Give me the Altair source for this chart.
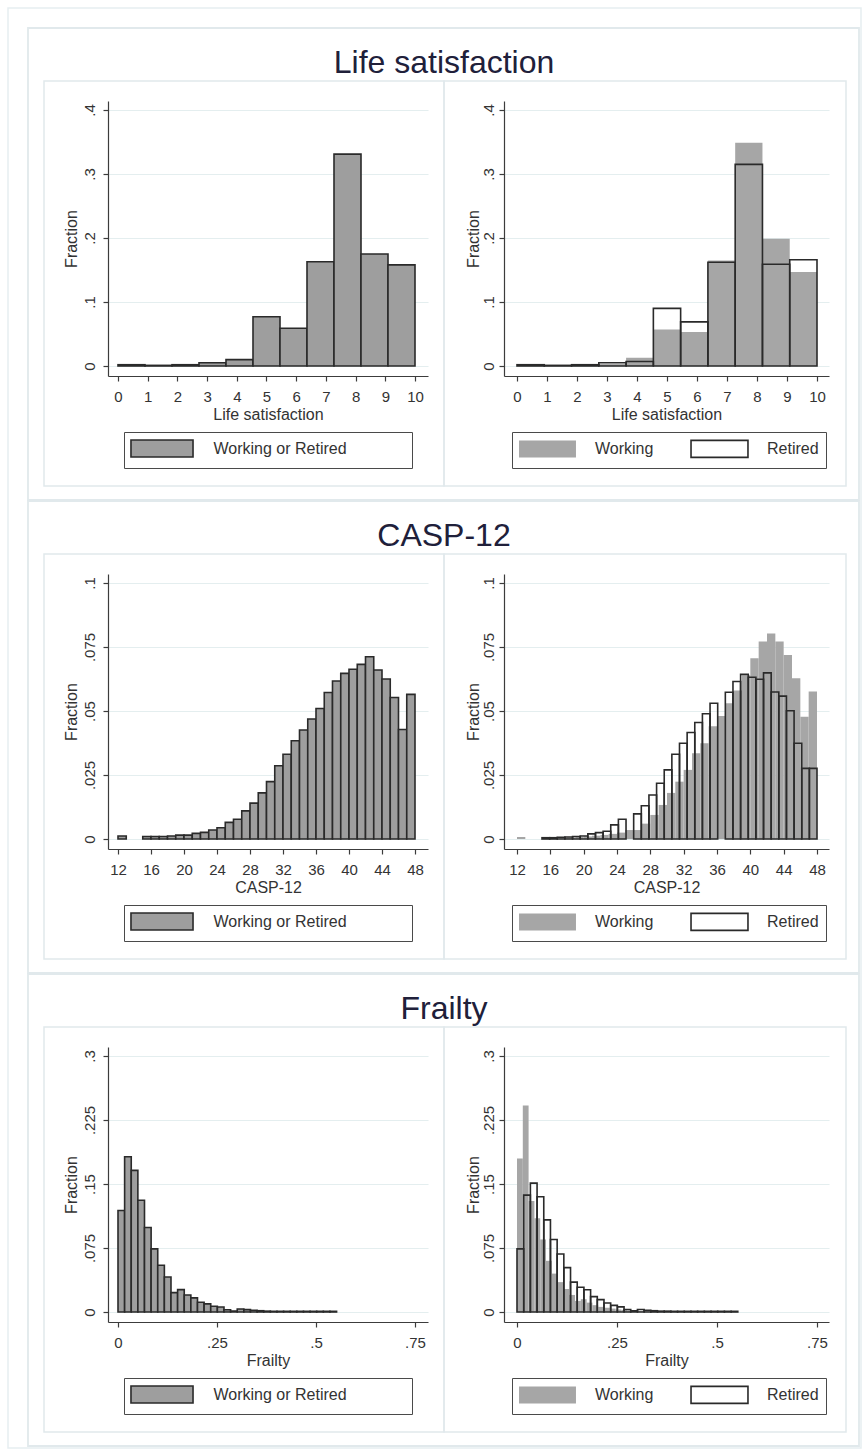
import altair as alt
import numpy as np
import pandas as pd

# ---------------------------------------------------------------- data
# Life satisfaction: 11 equal-width bins over [0, 10]
LS_LO, LS_W = 0.0, 10 / 11
ls_all = [0.002, 0.001, 0.002, 0.005, 0.010, 0.077, 0.059, 0.163, 0.331, 0.175, 0.158]
ls_working = [0.002, 0.001, 0.002, 0.003, 0.013, 0.057, 0.053, 0.165, 0.349, 0.199, 0.147]
ls_retired = [0.002, 0.001, 0.002, 0.005, 0.007, 0.090, 0.069, 0.162, 0.315, 0.159, 0.166]

# CASP-12: unit bins starting at 12 (last bin holds 47 and 48)
CASP_LO, CASP_W = 12, 1.0
casp_all = [0.0012, 0, 0, 0.0010, 0.0010, 0.0010, 0.0012, 0.0015, 0.0015, 0.0022,
            0.0026, 0.0035, 0.0044, 0.0065, 0.0077, 0.0110, 0.0140, 0.0180, 0.0224,
            0.0286, 0.0331, 0.0384, 0.0426, 0.0469, 0.0510, 0.0572, 0.0617, 0.0647,
            0.0663, 0.0682, 0.0712, 0.0660, 0.0625, 0.0553, 0.0428, 0.0565]
casp_working = [0.0008, 0, 0, 0.0005, 0.0005, 0.0005, 0.0006, 0.0008, 0.0010, 0.0013,
                0.0016, 0.0020, 0.0025, 0.0035, 0.0035, 0.0060, 0.0094, 0.0133, 0.0180,
                0.0224, 0.0270, 0.0335, 0.0374, 0.0440, 0.0480, 0.0530, 0.0580, 0.0640,
                0.0706, 0.0771, 0.0803, 0.0771, 0.0719, 0.0628, 0.0478, 0.0576]
# retired sample: 36 bins over [15, 48]
CASP_RET_LO, CASP_RET_W = 15, 33 / 36
casp_retired = [0.0005, 0.0005, 0.0007, 0.0008, 0.0010, 0.0012, 0.0020, 0.0025, 0.0030,
                0.0055, 0.0077, 0, 0.0098, 0.0130, 0.0172, 0.0218, 0.0270, 0.0331,
                0.0374, 0.0416, 0.0455, 0.0489, 0.0530, 0, 0.0573, 0.0615, 0.0643,
                0.0632, 0.0624, 0.0649, 0.0574, 0.0558, 0.0501, 0.0374, 0.0276, 0.0276]

# Frailty index
FR_LO, FR_W = 0.0, 0.552 / 33
frailty_all = [0.119, 0.182, 0.166, 0.131, 0.099, 0.074, 0.0547, 0.041,
               0.0227, 0.0262, 0.020, 0.0165, 0.0115, 0.0095, 0.0068, 0.0058,
               0.0027, 0.0012, 0.0035, 0.0028, 0.0020, 0.0015,
               0.0010, 0.0008, 0.0008, 0.0008, 0.0008, 0.0008, 0.0008, 0.0008,
               0.0008, 0.0008, 0.0008]
FR_WORK_W = 0.0145
frailty_working = [0.180, 0.242, 0.130, 0.110, 0.085, 0.060, 0.045, 0.035, 0.027,
                   0.020, 0.013, 0.015, 0.011, 0.008, 0.006, 0.005, 0.004, 0.003,
                   0.0025, 0.002, 0.0015, 0.001, 0.001, 0.001, 0.0008, 0.0008,
                   0.0008, 0.0008, 0.0008, 0.0008, 0.0008]
frailty_retired = [0.074, 0.137, 0.151, 0.135, 0.108, 0.085, 0.068, 0.052,
                   0.035, 0.029, 0.026, 0.018, 0.0145, 0.0106, 0.0078, 0.006,
                   0.003, 0.0015, 0.003, 0.002, 0.0015, 0.001, 0.001, 0.0008,
                   0.0008, 0.0008, 0.0008, 0.0008, 0.0008, 0.0008, 0.0008, 0.0008,
                   0.0008]

ls_xticks = list(range(0, 11))
casp_xticks = list(range(12, 49, 4))
fr_xticks = [0, 0.25, 0.5, 0.75]
ls_yticks = [0, 0.1, 0.2, 0.3, 0.4]
casp_yticks = [0, 0.025, 0.05, 0.075, 0.1]
fr_yticks = [0, 0.075, 0.15, 0.225, 0.3]

# ---------------------------------------------------------------- style
FONT = "Liberation Sans"
TXT = "#333333"
HEAD = "#20203a"
AXIS = "#3c3c3c"
GRID = "#e4eeef"
FRAME = "#e1e9ec"
GRAY = "#9e9e9e"
WORK_GRAY = "#a6a6a6"
EDGE = "#2a2a2a"

PW_L, PW_R, PH = 320, 325, 275
ROW_STEP = 473
LAB = "replace(toString(datum.value), '0.', '.')"
DUMMY = pd.DataFrame({"d": [0]})
WIDE_L = "M-3.65,-1H3.65V1H-3.65Z"
WIDE_R = "M-3.35,-1H3.35V1H-3.35Z"


def bars_df(lo, width, values, group):
    k = np.arange(len(values))
    df = pd.DataFrame({"x0": lo + k * width, "x1": lo + (k + 1) * width,
                       "frac": values, "grp": group})
    return df[df["frac"] > 0]


def frame(x, x2, y, y2, color=FRAME, width=1.5):
    return alt.Chart(DUMMY).mark_rect(filled=False, stroke=color, strokeWidth=width).encode(
        x=alt.value(x), x2=alt.value(x2), y=alt.value(y), y2=alt.value(y2))


def encodings(lo, hi, ymax, xticks, yticks, xtitle, pw, pad_l, pad_r, span, lab_pad, title_x):
    rng = hi - lo
    xdom = [lo - pad_l / span * rng, hi + pad_r / span * rng]
    ydom = [-10 / 256 * ymax, ymax + 9 / 256 * ymax]
    x = alt.X("x0:Q", scale=alt.Scale(domain=xdom, nice=False, zero=False),
              axis=alt.Axis(values=xticks, title=xtitle, labelExpr=LAB, grid=False,
                            tickSize=5, labelPadding=15, labelBaseline="middle",
                            labelAlign="center", labelFlush=False, labelOverlap=False,
                            titleX=pw / 2, titleY=38, titleBaseline="middle",
                            titleAlign="center"))
    y = alt.Y("frac:Q", scale=alt.Scale(domain=ydom, nice=False, zero=False),
              axis=alt.Axis(values=yticks, title="Fraction", labelExpr=LAB, grid=True,
                            tickSize=5, labelAngle=270, labelPadding=lab_pad,
                            labelBaseline="middle", labelAlign="center",
                            labelFlush=False, labelOverlap=False,
                            titleX=title_x, titleY=PH / 2, titleAngle=270,
                            titleBaseline="middle", titleAlign="center"))
    return x, y


def left_panel(row, extra):
    x, y = encodings(row["lo"], row["hi"], row["ymax"], row["xticks"], row["yticks"],
                     row["xtitle"], PW_L, 10, 13, 297, 14, -37)
    # trailing no-break spaces widen the legend box; the zero-width space keeps them
    legend = alt.Legend(orient="none", legendX=16, legendY=331, title=None,
                        symbolType=WIDE_L, symbolSize=289, symbolOffset=21.5,
                        labelOffset=42, symbolStrokeColor=EDGE, symbolStrokeWidth=1.6,
                        labelLimit=400,
                        labelExpr="pad(datum.label, 31, '\u00a0') + '\u200b'",
                        padding=7, strokeColor="#4a4a4a", fillColor="white")
    bars = alt.Chart(row["all"]).mark_rect(stroke=EDGE, strokeWidth=1.6).encode(
        x=x, x2="x1", y=y, y2=alt.datum(0),
        fill=alt.Fill("grp:N", scale=alt.Scale(domain=["Working or Retired"], range=[GRAY]),
                      legend=legend))
    heading = alt.Chart(DUMMY).mark_text(font=FONT, fontSize=32, color=HEAD, align="center",
                                         baseline="alphabetic").encode(
        x=alt.value(336), y=alt.value(-28), text=alt.value(row["title"]))
    layers = extra + [frame(-80, 751, -73, 399, width=1.8), frame(-64, 336, -20, 385),
                      bars, heading]
    return alt.layer(*layers).properties(width=PW_L, height=PH)


def right_panel(row):
    x, y = encodings(row["lo"], row["hi"], row["ymax"], row["xticks"], row["yticks"],
                     row["xtitle"], PW_R, 13, 12, 300, 11, -31)
    fill_scale = alt.Scale(domain=["Working", "Retired"], range=[WORK_GRAY, "transparent"])
    stroke_scale = alt.Scale(domain=["Working", "Retired"], range=["transparent", EDGE])
    legend = alt.Legend(orient="none", legendX=8, legendY=331, title=None,
                        direction="horizontal", columns=2, columnPadding=33,
                        symbolType=WIDE_R, symbolSize=289, symbolOffset=19,
                        labelOffset=38, symbolStrokeWidth=1.6,
                        padding=7, strokeColor="#4a4a4a", fillColor="white")

    def layer_for(df):
        return alt.Chart(df).mark_rect(strokeWidth=1.6).encode(
            x=x, x2="x1", y=y, y2=alt.datum(0),
            fill=alt.Fill("grp:N", scale=fill_scale, legend=legend),
            stroke=alt.Stroke("grp:N", scale=stroke_scale, legend=legend))

    return alt.layer(frame(-60, 342, -20, 385), layer_for(row["work"]),
                     layer_for(row["ret"])).properties(width=PW_R, height=PH)


rows = [
    dict(title="Life satisfaction", xtitle="Life satisfaction", lo=0, hi=10, ymax=0.4,
         xticks=ls_xticks, yticks=ls_yticks,
         all=bars_df(LS_LO, LS_W, ls_all, "Working or Retired"),
         work=bars_df(LS_LO, LS_W, ls_working, "Working"),
         ret=bars_df(LS_LO, LS_W, ls_retired, "Retired")),
    dict(title="CASP-12", xtitle="CASP-12", lo=12, hi=48, ymax=0.1,
         xticks=casp_xticks, yticks=casp_yticks,
         all=bars_df(CASP_LO, CASP_W, casp_all, "Working or Retired"),
         work=bars_df(CASP_LO, CASP_W, casp_working, "Working"),
         ret=bars_df(CASP_RET_LO, CASP_RET_W, casp_retired, "Retired")),
    dict(title="Frailty", xtitle="Frailty", lo=0, hi=0.75, ymax=0.3,
         xticks=fr_xticks, yticks=fr_yticks,
         all=bars_df(FR_LO, FR_W, frailty_all, "Working or Retired"),
         work=bars_df(FR_LO, FR_WORK_W, frailty_working, "Working"),
         ret=bars_df(FR_LO, FR_W, frailty_retired, "Retired")),
]

row_charts = []
for i, row in enumerate(rows):
    extra = [frame(-100, 753, -93, 1347, color="#e6eef1", width=1.5)] if i == 0 else []
    row_charts.append(
        alt.hconcat(left_panel(row, extra), right_panel(row), spacing=76, bounds="flush")
        .resolve_scale(x="independent", y="independent", fill="independent",
                       stroke="independent")
        .resolve_legend(fill="independent", stroke="independent"))

# with flush bounds the rows contribute no height, so the spacing is the full row step
chart = (
    alt.vconcat(*row_charts, spacing=ROW_STEP, bounds="flush")
    .resolve_scale(x="independent", y="independent", fill="independent", stroke="independent")
    .resolve_legend(fill="independent", stroke="independent")
    .properties(padding={"left": 7, "top": 7, "right": 3, "bottom": 2}, background="white")
    .configure(font=FONT)
    .configure_view(strokeWidth=0)
    .configure_axis(domainColor=AXIS, tickColor=AXIS, domainWidth=1.2, tickWidth=1.2,
                    labelColor=TXT, titleColor=TXT, labelFontSize=15, titleFontSize=16,
                    titleFontWeight="normal", gridColor=GRID, gridWidth=1.2,
                    labelFont=FONT, titleFont=FONT)
    .configure_legend(labelFontSize=16, labelColor=TXT, labelFont=FONT)
)

chart.save("out.html", embed_options={"renderer": "svg", "actions": False})
